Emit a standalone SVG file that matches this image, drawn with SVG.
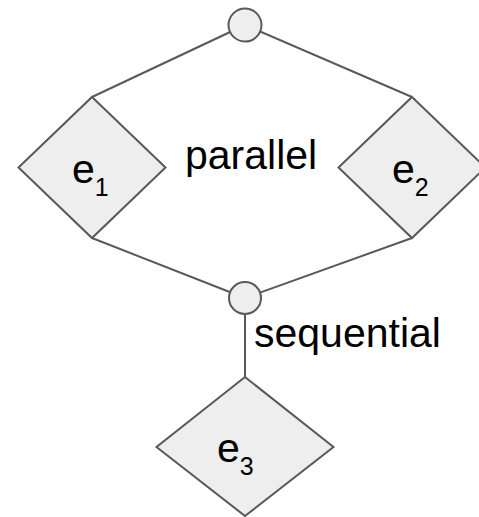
<svg xmlns="http://www.w3.org/2000/svg" width="479" height="517" viewBox="0 0 479 517">
<style>
.shape{fill:#eeeeee;stroke:#595959;stroke-width:2}
.edge{stroke:#595959;stroke-width:2;fill:none}
text{font-family:"Liberation Sans",Arial,sans-serif;fill:#000000}
.lbl{font-size:41px}
.sub{font-size:25px}
</style>
<rect width="479" height="517" fill="#ffffff"/>
<g id="connectors">
<line class="edge" x1="245" y1="25" x2="92" y2="97"/>
<line class="edge" x1="245" y1="25" x2="412" y2="97"/>
<line class="edge" x1="92" y1="238" x2="245" y2="298"/>
<line class="edge" x1="412" y1="238" x2="245" y2="298"/>
<line class="edge" x1="245" y1="298" x2="245" y2="377"/>
</g>
<g id="top">
<circle class="shape" cx="245" cy="25" r="16.5"/>
</g>
<g id="join">
<circle class="shape" cx="245" cy="298" r="16"/>
</g>
<g id="e1">
<polygon class="shape" points="92,97 165.5,167.5 92,238 18.5,167.5"/>
<text class="lbl" x="72" y="183">e<tspan class="sub" dy="13">1</tspan></text>
</g>
<g id="e2">
<polygon class="shape" points="412,97 485.5,167.5 412,238 338.5,167.5"/>
<text class="lbl" x="392" y="183">e<tspan class="sub" dy="13">2</tspan></text>
</g>
<g id="e3">
<polygon class="shape" points="245,377 333.5,447 245,516 156.5,447"/>
<text class="lbl" x="217" y="462">e<tspan class="sub" dy="13">3</tspan></text>
</g>
<g id="labels">
<text class="lbl" x="185" y="169">parallel</text>
<text class="lbl" x="254" y="347">sequential</text>
</g>
</svg>
